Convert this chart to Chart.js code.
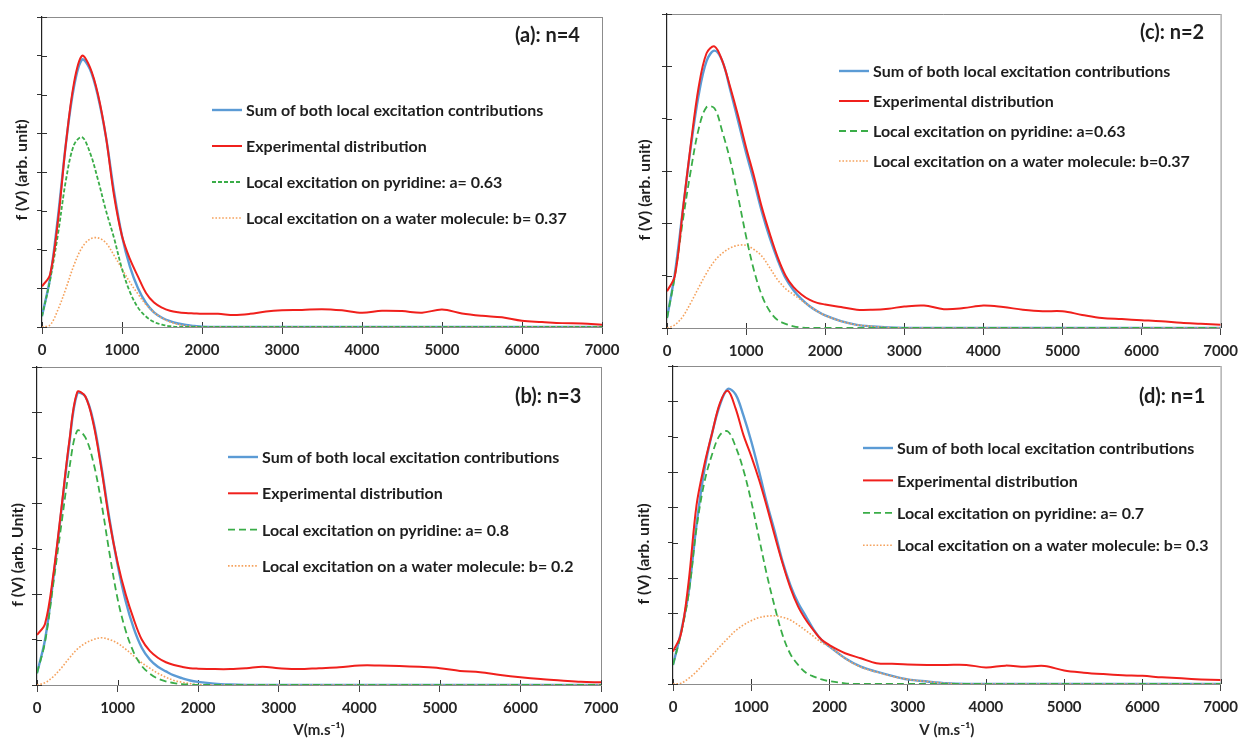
<!DOCTYPE html>
<html>
<head>
<meta charset="utf-8">
<title>f(V) distributions, n = 1..4</title>
<script src="https://cdn.jsdelivr.net/npm/chart.js@4.4.0/dist/chart.umd.min.js"></script>
<style>
  html, body { margin: 0; padding: 0; background: #fff; }
  #wrap { position: relative; width: 1245px; height: 740px; overflow: hidden; }
  #wrap canvas { position: absolute; left: 0; top: 0; }
</style>
</head>
<body>
<div id="wrap">
  <canvas id="chartA" width="1245" height="740"></canvas>
  <canvas id="chartB" width="1245" height="740"></canvas>
  <canvas id="chartC" width="1245" height="740"></canvas>
  <canvas id="chartD" width="1245" height="740"></canvas>
</div>
<script>
// x grids (m/s): experimental curve and fitted contributions
const expSpeeds = [0,100,200,300,400,500,600,700,800,900,1000,1100,1200,1300,1400,1500,1600,1700,1800,1900,2000,
  2200,2400,2600,2800,3000,3250,3500,3750,4000,4250,4500,4750,5000,5250,5500,5750,6000,6250,6500,6750,7000];
const fitSpeeds = [0,100,200,300,400,500,600,700,800,900,1000,1100,1200,1300,1400,1500,1600,1700,1800,1900,2000,
  2200,2400,2600,2800,3000,3250,3500,3750,4000,7000];
const xTickValues = [0,1000,2000,3000,4000,5000,6000,7000];

// (a) n=4
const expA = [1.05,1.35,2.75,4.75,6.3,7.0,6.7,6.0,4.9,3.4,2.35,1.75,1.3,0.88,0.63,0.5,0.42,0.38,0.36,0.35,0.34,
  0.34,0.31,0.34,0.4,0.43,0.44,0.46,0.43,0.37,0.42,0.41,0.37,0.45,0.35,0.29,0.25,0.16,0.13,0.1,0.09,0.06];
const sumA = [0.28,1.25,2.85,4.75,6.2,6.9,6.65,5.95,4.9,3.5,2.35,1.55,1.0,0.62,0.38,0.24,0.15,0.09,0.05,0.03,0.01,
  0,0,0,0,0,0,0,0,0,0];
const pyrA = [0.28,1.2,2.4,3.8,4.7,4.9,4.5,3.8,3.0,2.3,1.5,0.9,0.5,0.27,0.13,0.06,0.02,0,0,0,0,
  0,0,0,0,0,0,0,0,0,0];
const watA = [0,0.05,0.45,1.0,1.6,2.05,2.27,2.3,2.17,1.85,1.5,1.15,0.85,0.58,0.38,0.23,0.13,0.07,0.03,0.01,0,
  0,0,0,0,0,0,0,0,0,0];

// (b) n=3
const expB = [1.1,1.35,2.4,3.85,5.35,6.45,6.35,5.75,4.75,3.6,2.7,2.0,1.45,1.0,0.75,0.6,0.5,0.44,0.4,0.37,0.36,
  0.35,0.35,0.37,0.4,0.37,0.35,0.37,0.39,0.43,0.43,0.42,0.4,0.37,0.31,0.28,0.22,0.17,0.13,0.1,0.07,0.06];
const sumB = [0.26,1.0,2.3,3.8,5.3,6.42,6.35,5.8,4.8,3.65,2.65,1.85,1.25,0.82,0.56,0.4,0.3,0.21,0.15,0.1,0.07,
  0.03,0.01,0,0,0,0,0,0,0,0];
const pyrB = [0.26,0.95,2.2,3.5,4.75,5.6,5.45,4.9,4.0,2.9,1.9,1.2,0.72,0.42,0.25,0.14,0.08,0.04,0.02,0.01,0,
  0,0,0,0,0,0,0,0,0,0];
const watB = [0,0.05,0.18,0.37,0.59,0.79,0.92,1.0,1.04,1.0,0.92,0.79,0.64,0.49,0.37,0.26,0.17,0.1,0.06,0.03,0.01,
  0,0,0,0,0,0,0,0,0,0];

// (c) n=2
const expC = [0.7,1.0,2.25,3.5,4.6,5.25,5.38,5.1,4.6,4.05,3.45,2.9,2.3,1.8,1.35,1.0,0.78,0.64,0.54,0.48,0.45,
  0.4,0.35,0.35,0.37,0.41,0.43,0.36,0.38,0.43,0.4,0.35,0.32,0.32,0.25,0.19,0.17,0.15,0.13,0.1,0.08,0.06];
const sumC = [0.19,1.05,2.25,3.45,4.45,5.1,5.3,5.1,4.55,3.95,3.35,2.8,2.22,1.72,1.3,0.95,0.72,0.55,0.42,0.32,0.24,
  0.13,0.06,0.03,0.01,0,0,0,0,0,0];
const pyrC = [0.19,1.0,2.05,3.0,3.8,4.22,4.2,3.75,3.2,2.5,1.75,1.1,0.62,0.32,0.15,0.08,0.03,0.01,0,0,0,
  0,0,0,0,0,0,0,0,0,0];
const watC = [0,0.06,0.22,0.48,0.77,1.05,1.28,1.43,1.53,1.58,1.58,1.5,1.37,1.15,0.92,0.75,0.64,0.53,0.42,0.32,0.24,
  0.13,0.06,0.03,0.01,0,0,0,0,0,0];

// (d) n=1
const expD = [0.92,1.4,2.9,5.05,6.2,7.1,7.95,8.3,7.8,7.05,6.45,5.78,5.02,4.2,3.42,2.73,2.19,1.81,1.51,1.25,1.1,
  0.87,0.73,0.59,0.57,0.55,0.54,0.54,0.54,0.47,0.52,0.49,0.51,0.38,0.32,0.28,0.25,0.23,0.19,0.16,0.13,0.11];
const sumD = [0.54,1.45,2.6,4.5,6.05,7.1,7.9,8.35,8.2,7.6,6.87,6.02,5.12,4.32,3.47,2.8,2.29,1.91,1.53,1.24,1.06,
  0.73,0.49,0.35,0.23,0.13,0.07,0.02,0,0,0];
const pyrD = [0.54,1.4,2.55,4.4,5.7,6.5,7.05,7.15,6.72,6.06,5.17,4.13,3.09,2.19,1.39,0.85,0.54,0.32,0.21,0.13,0.08,
  0.02,0,0,0,0,0,0,0,0,0];
const watD = [0,0.02,0.16,0.35,0.59,0.82,1.06,1.29,1.51,1.67,1.79,1.88,1.92,1.93,1.89,1.81,1.67,1.51,1.34,1.17,1.06,
  0.72,0.48,0.34,0.22,0.13,0.07,0.02,0,0,0];

const FONT = 'Lato, "Open Sans", sans-serif';
Chart.defaults.font.family = FONT;
Chart.defaults.color = '#262626';

const COLORS = { sum: '#5b9bd5', exp: '#f0201c', pyr: '#3aad48', wat: '#f5a25d' };
const LEGEND_ORDER = [3, 0, 1, 2]; // sum, experimental, pyridine, water

function pairs(xs, ys) {
  return xs.map((x, i) => ({ x: x, y: ys[i] }));
}

// draws the box, inner tick marks, tag, y title and the legend
const overlayPlugin = {
  id: 'overlay',
  beforeDatasetsDraw(chart, args, opts) {
    const ctx = chart.ctx;
    const a = chart.chartArea;
    ctx.save();
    ctx.strokeStyle = '#8c8c8c';
    ctx.lineWidth = 1;
    ctx.beginPath();
    ctx.moveTo(a.left, a.top + 0.5);
    ctx.lineTo(a.right, a.top + 0.5);
    ctx.moveTo(a.right + 0.5, a.top);
    ctx.lineTo(a.right + 0.5, a.bottom);
    ctx.stroke();
    // cross ticks: the part inside the plot
    ctx.strokeStyle = '#333';
    ctx.beginPath();
    chart.scales.y.ticks.forEach(t => {
      const py = Math.round(chart.scales.y.getPixelForValue(t.value)) + 0.5;
      ctx.moveTo(a.left, py);
      ctx.lineTo(a.left + 5, py);
    });
    chart.scales.x.ticks.forEach(t => {
      const px = Math.round(chart.scales.x.getPixelForValue(t.value)) + 0.5;
      ctx.moveTo(px, a.bottom);
      ctx.lineTo(px, a.bottom - 5);
    });
    ctx.stroke();
    ctx.restore();
  },
  afterDraw(chart, args, opts) {
    const ctx = chart.ctx;
    ctx.save();
    ctx.fillStyle = '#1e1e1e';
    ctx.textBaseline = 'middle';

    ctx.font = 'bold 20px ' + FONT;
    ctx.textAlign = 'left';
    ctx.fillText(opts.tag, opts.tagX, opts.tagY);

    ctx.save();
    ctx.translate(opts.yTitleX, opts.yTitleY);
    ctx.rotate(-Math.PI / 2);
    ctx.textAlign = 'center';
    ctx.font = 'bold 16px ' + FONT;
    ctx.fillText(opts.yTitle, 0, 0);
    ctx.restore();

    ctx.font = 'bold 16px ' + FONT;
    ctx.textAlign = 'left';
    LEGEND_ORDER.forEach((idx, row) => {
      const ds = chart.data.datasets[idx];
      const y = opts.legendY + row * opts.legendGap;
      ctx.save();
      ctx.strokeStyle = ds.borderColor;
      ctx.lineWidth = ds.borderWidth;
      ctx.setLineDash(ds.borderDash || []);
      ctx.beginPath();
      ctx.moveTo(opts.legendX, y);
      ctx.lineTo(opts.legendX + 30, y);
      ctx.stroke();
      ctx.restore();
      ctx.fillText(ds.label, opts.legendX + 34, y + 1);
    });
    ctx.restore();
  }
};

const panels = [
  { id: 'chartA', exp: expA, sum: sumA, pyr: pyrA, wat: watA, yMax: 8, dash: [4, 2],
    area: { left: 42, right: 602, top: 17, bottom: 327 }, xh: 30, xTitle: '',
    pyrLabel: 'Local excitation on pyridine: a= 0.63', watLabel: 'Local excitation on a water molecule: b= 0.37',
    overlay: { tag: '(a): n=4', tagX: 515, tagY: 36, yTitle: 'f (V) (arb. unit)', yTitleX: 22, yTitleY: 170,
      legendX: 212, legendY: 110, legendGap: 36 } },
  { id: 'chartB', exp: expB, sum: sumB, pyr: pyrB, wat: watB, yMax: 7, dash: [7, 4],
    area: { left: 37, right: 601, top: 367, bottom: 685 }, xh: 54, xTitle: 'V(m.s\u207B\u00B9)',
    pyrLabel: 'Local excitation on pyridine: a= 0.8', watLabel: 'Local excitation on a water molecule: b= 0.2',
    overlay: { tag: '(b): n=3', tagX: 515, tagY: 397, yTitle: 'f (V) (arb. Unit)', yTitleX: 18, yTitleY: 555,
      legendX: 228, legendY: 457, legendGap: 36.3 } },
  { id: 'chartC', exp: expC, sum: sumC, pyr: pyrC, wat: watC, yMax: 6, dash: [7, 4],
    area: { left: 667, right: 1227, top: 14, bottom: 328 }, xh: 30, xTitle: '',
    pyrLabel: 'Local excitation on pyridine: a=0.63', watLabel: 'Local excitation on a water molecule: b=0.37',
    overlay: { tag: '(c): n=2', tagX: 1140, tagY: 33, yTitle: 'f (V) (arb. unit)', yTitleX: 645, yTitleY: 190,
      legendX: 839, legendY: 71, legendGap: 30 } },
  { id: 'chartD', exp: expD, sum: sumD, pyr: pyrD, wat: watD, yMax: 9, dash: [7, 4],
    area: { left: 673, right: 1227, top: 366, bottom: 684 }, xh: 55, xTitle: 'V (m.s\u207B\u00B9)',
    pyrLabel: 'Local excitation on pyridine: a= 0.7', watLabel: 'Local excitation on a water molecule: b= 0.3',
    overlay: { tag: '(d): n=1', tagX: 1139, tagY: 397, yTitle: 'f (V) (arb. unit)', yTitleX: 644, yTitleY: 554,
      legendX: 863, legendY: 448, legendGap: 32.4 } }
];

panels.forEach(p => {
  const yw = 5;
  new Chart(document.getElementById(p.id), {
    type: 'line',
    data: {
      datasets: [
        { label: 'Experimental distribution', data: pairs(expSpeeds, p.exp),
          borderColor: COLORS.exp, borderWidth: 2 },
        { label: p.pyrLabel, data: pairs(fitSpeeds, p.pyr),
          borderColor: COLORS.pyr, borderWidth: 1.8, borderDash: p.dash },
        { label: p.watLabel, data: pairs(fitSpeeds, p.wat),
          borderColor: COLORS.wat, borderWidth: 1.6, borderDash: [1.6, 1.8] },
        { label: 'Sum of both local excitation contributions', data: pairs(fitSpeeds, p.sum),
          borderColor: COLORS.sum, borderWidth: 2.4 }
      ]
    },
    options: {
      responsive: false,
      animation: false,
      devicePixelRatio: 1,
      elements: { point: { radius: 0 }, line: { tension: 0.35, fill: false } },
      layout: {
        padding: {
          left: p.area.left - yw,
          right: 1245 - p.area.right,
          top: p.area.top,
          bottom: 740 - p.area.bottom - p.xh
        }
      },
      plugins: {
        legend: { display: false },
        tooltip: { enabled: false },
        overlay: p.overlay
      },
      scales: {
        x: {
          type: 'linear', min: 0, max: 7000,
          afterBuildTicks: s => { s.ticks = xTickValues.map(v => ({ value: v })); },
          afterFit: s => { s.height = p.xh; },
          ticks: { font: { size: 15, weight: 'bold' }, color: '#262626', padding: 7, maxRotation: 0,
            callback: v => String(v) },
          grid: { drawOnChartArea: false, tickLength: 7, color: '#444' },
          border: { color: '#8c8c8c', width: 1 },
          title: { display: !!p.xTitle, text: p.xTitle, font: { size: 15, weight: 'bold' },
            color: '#262626', padding: 0 }
        },
        y: {
          min: 0, max: p.yMax,
          ticks: { stepSize: 1, display: false },
          afterFit: s => { s.width = yw; },
          grid: { drawOnChartArea: false, tickLength: 5, color: '#333' },
          border: { color: '#222', width: 1.2 }
        }
      }
    },
    plugins: [overlayPlugin]
  });
});
</script>
</body>
</html>
